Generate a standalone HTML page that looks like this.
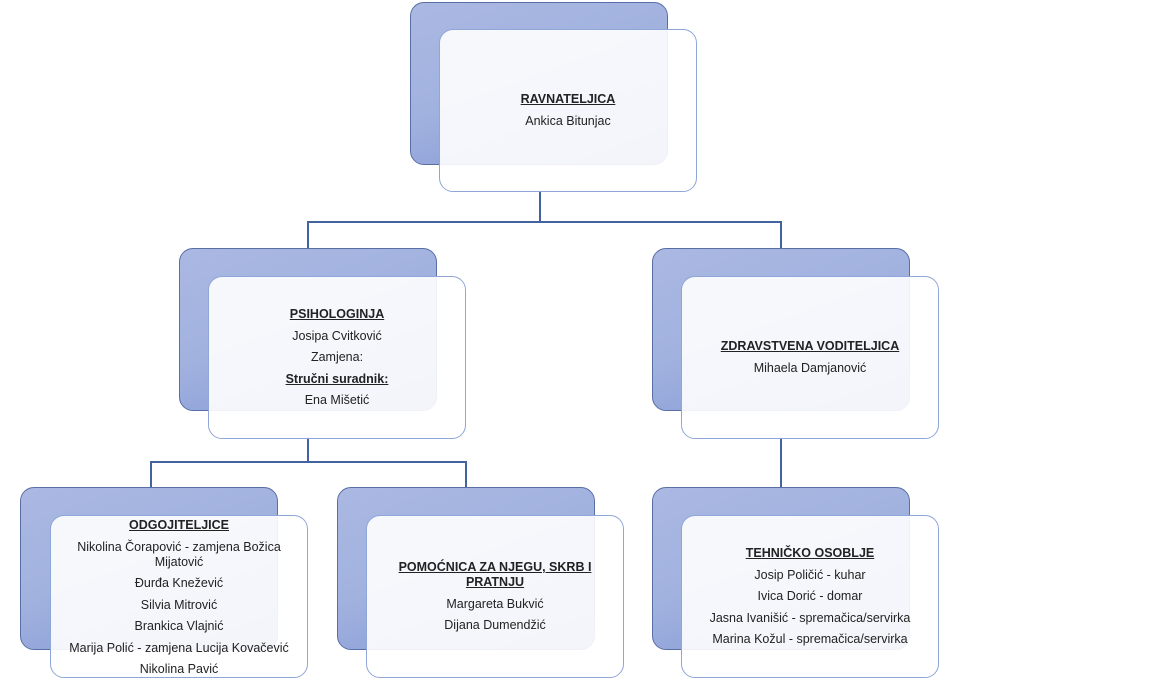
<!DOCTYPE html>
<html><head><meta charset="utf-8"><style>
body{margin:0;width:1152px;height:685px;background:#fff;position:relative;overflow:hidden;font-family:"Liberation Sans",sans-serif;}
.b{position:absolute;width:258px;height:163px;border-radius:14px;border:1px solid #5a6ea6;box-sizing:border-box;background:linear-gradient(160deg,#aab8e2 0%,#a2b2df 45%,#7f96d3 100%);}
.f{position:absolute;width:258px;height:163px;border-radius:14px;border:1px solid #8fa6d8;box-sizing:border-box;background:rgba(255,255,255,0.9);display:flex;flex-direction:column;justify-content:center;align-items:center;text-align:center;font-size:12.5px;color:#222;}
.f p{margin:0 0 6.5px 0;line-height:15px;}
.f p:last-child{margin-bottom:0}
.f .t{font-weight:bold;text-decoration:underline;}
.l{position:absolute;background:#4263a0;}
</style></head><body>
<div class="l" style="left:539px;top:190px;width:1.5px;height:32px"></div>
<div class="l" style="left:307px;top:221px;width:475px;height:1.5px"></div>
<div class="l" style="left:307px;top:221px;width:1.5px;height:28px"></div>
<div class="l" style="left:780px;top:221px;width:1.5px;height:28px"></div>
<div class="l" style="left:307px;top:437px;width:1.5px;height:25px"></div>
<div class="l" style="left:150px;top:461px;width:316px;height:1.5px"></div>
<div class="l" style="left:150px;top:461px;width:1.5px;height:27px"></div>
<div class="l" style="left:465px;top:461px;width:1.5px;height:27px"></div>
<div class="l" style="left:780px;top:437px;width:1.5px;height:51px"></div>

<div class="b" style="left:410px;top:2px"></div>
<div class="f" style="left:439px;top:29px"><p class="t">RAVNATELJICA</p><p>Ankica Bitunjac</p></div>

<div class="b" style="left:179px;top:248px"></div>
<div class="f" style="left:208px;top:276px"><p class="t">PSIHOLOGINJA</p><p>Josipa Cvitković</p><p>Zamjena:</p><p style="font-weight:bold;text-decoration:underline">Stručni suradnik:</p><p>Ena Mišetić</p></div>

<div class="b" style="left:652px;top:248px"></div>
<div class="f" style="left:681px;top:276px"><p class="t">ZDRAVSTVENA VODITELJICA</p><p>Mihaela Damjanović</p></div>

<div class="b" style="left:20px;top:487px"></div>
<div class="f" style="left:50px;top:515px;justify-content:flex-start;padding-top:2px"><p class="t">ODGOJITELJICE</p><p>Nikolina Čorapović - zamjena Božica<br>Mijatović</p><p>Đurđa Knežević</p><p>Silvia Mitrović</p><p>Brankica Vlajnić</p><p>Marija Polić - zamjena Lucija Kovačević</p><p>Nikolina Pavić</p></div>

<div class="b" style="left:337px;top:487px"></div>
<div class="f" style="left:366px;top:515px"><p class="t">POMOĆNICA ZA NJEGU, SKRB I<br>PRATNJU</p><p>Margareta Bukvić</p><p>Dijana Dumendžić</p></div>

<div class="b" style="left:652px;top:487px"></div>
<div class="f" style="left:681px;top:515px"><p class="t">TEHNIČKO OSOBLJE</p><p>Josip Poličić - kuhar</p><p>Ivica Dorić - domar</p><p>Jasna Ivanišić - spremačica/servirka</p><p>Marina Kožul - spremačica/servirka</p></div>
</body></html>
